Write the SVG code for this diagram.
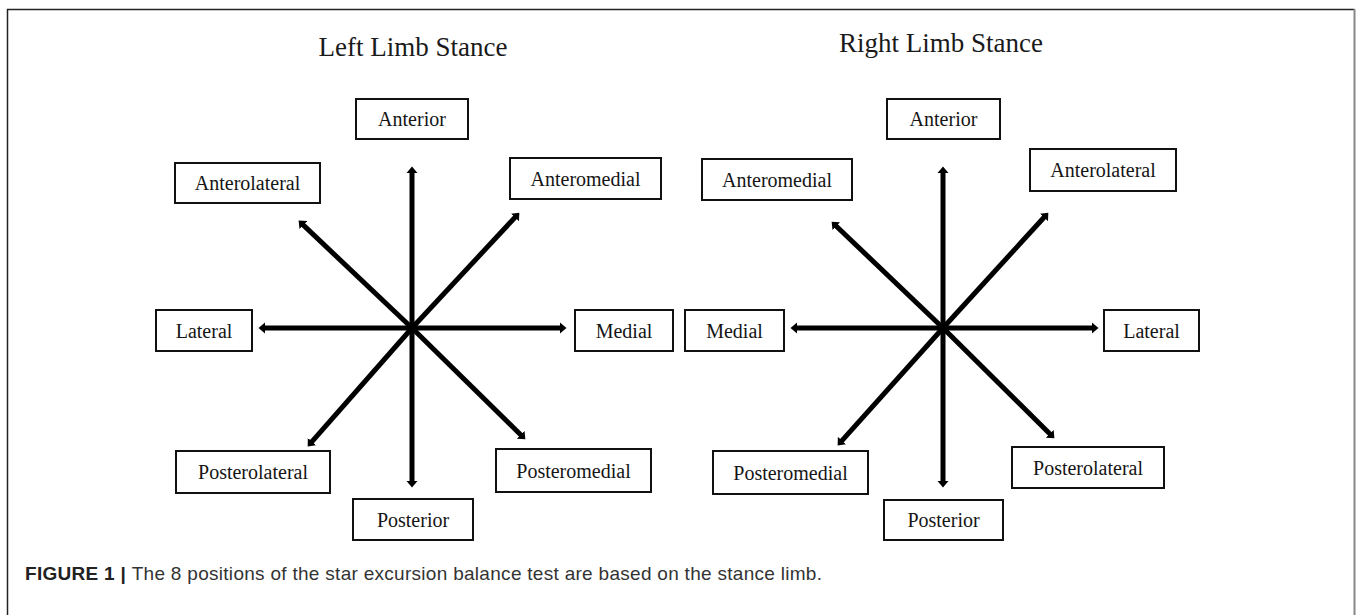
<svg xmlns="http://www.w3.org/2000/svg" width="1358" height="615" viewBox="0 0 1358 615">
<style>
.box{fill:#fff;stroke:#111;stroke-width:2}
.lbl{font-family:"Liberation Serif","Times New Roman",serif;font-size:20px;fill:#151515;text-anchor:middle}
.title{font-family:"Liberation Serif","Times New Roman",serif;font-size:27px;fill:#1a1a1a;text-anchor:middle}
.ray{stroke:#000;stroke-width:5;fill:none;marker-end:url(#ah)}
.cap{font-family:"Liberation Sans",Arial,sans-serif;font-size:19px;fill:#333}
</style>
<defs>
<marker id="ah" markerUnits="userSpaceOnUse" markerWidth="8" markerHeight="12" refX="1" refY="6" orient="auto" viewBox="0 0 8 12">
<path d="M0,0.5 L6.5,6 L0,11.5 z" fill="#000"/>
</marker>
</defs>
<rect x="0" y="0" width="1358" height="615" fill="#fff"/>
<path d="M7.5,630 V9.5 H1354.5" fill="none" stroke="#222" stroke-width="1.5"/>
<path d="M1354.5,9 V630" fill="none" stroke="#888" stroke-width="2"/>

<text class="title" x="413" y="56">Left Limb Stance</text>
<text class="title" x="941" y="52">Right Limb Stance</text>

<g id="connectors">
<line class="ray" x1="412" y1="328" x2="412" y2="172"/>
<line class="ray" x1="412" y1="328" x2="412" y2="482"/>
<line class="ray" x1="412" y1="328" x2="264" y2="328"/>
<line class="ray" x1="412" y1="328" x2="561" y2="328"/>
<line class="ray" x1="412" y1="328" x2="302.6" y2="224.4"/>
<line class="ray" x1="412" y1="328" x2="515.6" y2="216.7"/>
<line class="ray" x1="412" y1="328" x2="311.3" y2="442.3"/>
<line class="ray" x1="412" y1="328" x2="521.4" y2="435.5"/>

<line class="ray" x1="943" y1="328" x2="943" y2="172"/>
<line class="ray" x1="943" y1="328" x2="943" y2="482"/>
<line class="ray" x1="943" y1="328" x2="796" y2="328"/>
<line class="ray" x1="943" y1="328" x2="1093" y2="328"/>
<line class="ray" x1="943" y1="328" x2="835.6" y2="225.5"/>
<line class="ray" x1="943" y1="328" x2="1044.6" y2="216.7"/>
<line class="ray" x1="943" y1="328" x2="841.3" y2="441.3"/>
<line class="ray" x1="943" y1="328" x2="1050.5" y2="434.5"/>
</g>

<g id="L-anterior"><rect class="box" x="356" y="99" width="112" height="40"/><text class="lbl" x="412" y="126">Anterior</text></g>
<g id="L-anterolateral"><rect class="box" x="175" y="163" width="145" height="40"/><text class="lbl" x="247.5" y="190">Anterolateral</text></g>
<g id="L-anteromedial"><rect class="box" x="510" y="158" width="151" height="41"/><text class="lbl" x="585.5" y="185.5">Anteromedial</text></g>
<g id="L-lateral"><rect class="box" x="156" y="310" width="96" height="41"/><text class="lbl" x="204" y="337.5">Lateral</text></g>
<g id="L-medial"><rect class="box" x="575" y="310" width="98" height="41"/><text class="lbl" x="624" y="337.5">Medial</text></g>
<g id="L-posterolateral"><rect class="box" x="176" y="451" width="154" height="42"/><text class="lbl" x="253" y="479">Posterolateral</text></g>
<g id="L-posteromedial"><rect class="box" x="496" y="449" width="155" height="43"/><text class="lbl" x="573.5" y="477.5">Posteromedial</text></g>
<g id="L-posterior"><rect class="box" x="353" y="499" width="120" height="41"/><text class="lbl" x="413" y="526.5">Posterior</text></g>

<g id="R-anterior"><rect class="box" x="887" y="99" width="113" height="40"/><text class="lbl" x="943.5" y="126">Anterior</text></g>
<g id="R-anteromedial"><rect class="box" x="702" y="159" width="150" height="41"/><text class="lbl" x="777" y="186.5">Anteromedial</text></g>
<g id="R-anterolateral"><rect class="box" x="1030" y="149" width="146" height="42"/><text class="lbl" x="1103" y="177">Anterolateral</text></g>
<g id="R-medial"><rect class="box" x="685" y="310" width="99" height="41"/><text class="lbl" x="734.5" y="337.5">Medial</text></g>
<g id="R-lateral"><rect class="box" x="1104" y="310" width="95" height="41"/><text class="lbl" x="1151.5" y="337.5">Lateral</text></g>
<g id="R-posteromedial"><rect class="box" x="713" y="451" width="155" height="43"/><text class="lbl" x="790.5" y="479.5">Posteromedial</text></g>
<g id="R-posterolateral"><rect class="box" x="1012" y="447" width="152" height="41"/><text class="lbl" x="1088" y="474.5">Posterolateral</text></g>
<g id="R-posterior"><rect class="box" x="884" y="500" width="119" height="40"/><text class="lbl" x="943.5" y="527">Posterior</text></g>

<text class="cap" x="25" y="580" textLength="797" lengthAdjust="spacing"><tspan font-weight="bold" fill="#222">FIGURE 1 | </tspan>The 8 positions of the star excursion balance test are based on the stance limb.</text>
</svg>
